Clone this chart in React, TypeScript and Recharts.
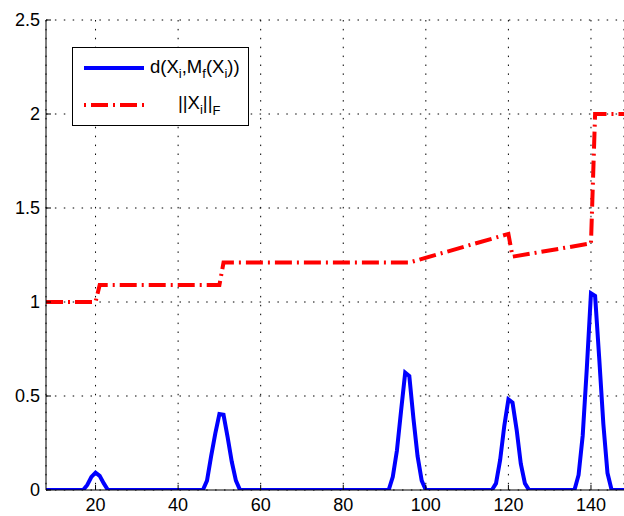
import React from 'react';
import { LineChart, Line, XAxis, YAxis, CartesianGrid, Legend } from 'recharts';

// distance to the fitted model, d(X_i, M_f(X_i))
const distX = [8, 17, 18, 19, 20, 21, 22, 23, 46, 47, 48, 49, 50, 51, 52, 53, 54, 55, 91, 92, 93, 94, 95, 96, 97, 98, 99, 100, 116, 117, 118, 119, 120, 121, 122, 123, 124, 125, 136, 137, 138, 139, 140, 141, 142, 143, 144, 145, 148];
const distY = [0, 0, 0.027, 0.07, 0.092, 0.075, 0.035, 0, 0, 0.05, 0.18, 0.3, 0.404, 0.4, 0.28, 0.15, 0.05, 0, 0, 0.07, 0.21, 0.42, 0.624, 0.606, 0.38, 0.18, 0.05, 0, 0, 0.035, 0.16, 0.34, 0.482, 0.465, 0.32, 0.14, 0.035, 0, 0, 0.08, 0.29, 0.65, 1.046, 1.032, 0.7, 0.35, 0.09, 0, 0];

// Frobenius norm ||X_i||_F (breakpoints of the piecewise curve)
const normX = [8, 20, 21, 50, 51, 96, 120, 121, 140, 141, 148];
const normY = [1, 1, 1.09, 1.09, 1.21, 1.21, 1.362, 1.241, 1.312, 2, 2];

const xTicks = [20, 40, 60, 80, 100, 120, 140];
const yTicks = [0, 0.5, 1, 1.5, 2, 2.5];
const yTickLabels = ['0', '0.5', '1', '1.5', '2', '2.5'];

const distData = distX.map((x, i) => ({ x, d: distY[i] }));
const normData = normX.map((x, i) => ({ x, n: normY[i] }));

const FONT = '"Liberation Sans", Arial, Helvetica, sans-serif';
const TICK_LEN = 5;

const YTick = (props: any) => {
  const { x, y, payload } = props;
  const idx = yTicks.indexOf(payload.value);
  const axisX = x + 6;
  return (
    <g>
      <line x1={axisX} x2={axisX + TICK_LEN} y1={y} y2={y} stroke="#000" />
      <text x={x} y={y} dy={6.4} textAnchor="end" fontSize={18} fontFamily={FONT} fill="#000">
        {idx >= 0 ? yTickLabels[idx] : payload.value}
      </text>
    </g>
  );
};

const XTick = (props: any) => {
  const { x, y, payload } = props;
  const axisY = y - 9;
  return (
    <g>
      <line x1={x} x2={x} y1={axisY} y2={axisY - TICK_LEN} stroke="#000" />
      <text x={x} y={y} dy={12} textAnchor="middle" fontSize={18} fontFamily={FONT} fill="#000">
        {payload.value}
      </text>
    </g>
  );
};

const TopTick = (props: any) => {
  const { x, y } = props;
  return <line x1={x} x2={x} y1={y} y2={y + TICK_LEN} stroke="#000" />;
};

const LegendBox = () => (
  <svg width={177} height={79} style={{ display: 'block' }}>
    <rect x={0.5} y={0.5} width={176} height={78} fill="#fff" stroke="#000" />
    <line x1={12} x2={72} y1={21} y2={21} stroke="#0000ff" strokeWidth={4} />
    <text x={78} y={26} fontSize={18.5} fontFamily={FONT} fill="#000">
      d(X<tspan dy={5} fontSize={13}>i</tspan>
      <tspan dy={-5}>,M</tspan>
      <tspan dy={5} fontSize={13}>f</tspan>
      <tspan dy={-5}>(X</tspan>
      <tspan dy={5} fontSize={13}>i</tspan>
      <tspan dy={-5}>))</tspan>
    </text>
    <line x1={12} x2={72} y1={58} y2={58} stroke="#ff0000" strokeWidth={4} strokeDasharray="2 5 17 5" />
    <text x={106} y={62} fontSize={18.5} fontFamily={FONT} fill="#000">
      ||X<tspan dy={5} fontSize={13}>i</tspan>
      <tspan dy={-5}>||</tspan>
      <tspan dy={6} fontSize={13}>F</tspan>
    </text>
  </svg>
);

const App: React.FC = () => {
  return (
    <div style={{ position: 'absolute', left: 0, top: 0, width: 624, height: 516, background: '#fff' }}>
      <LineChart width={624} height={516} margin={{ top: 20, right: 0, bottom: 0, left: 0 }}>
        <CartesianGrid stroke="#000" strokeDasharray="1.5 7.4" />
        <XAxis
          dataKey="x"
          type="number"
          domain={[8, 148]}
          ticks={xTicks}
          allowDataOverflow
          height={26}
          tickSize={0}
          tickMargin={9}
          tick={<XTick />}
          axisLine={{ stroke: '#000' }}
        />
        <XAxis
          xAxisId="top"
          orientation="top"
          type="number"
          domain={[8, 148]}
          ticks={xTicks}
          allowDataOverflow
          height={0}
          tickSize={0}
          tickMargin={0}
          tick={<TopTick />}
          axisLine={{ stroke: '#000' }}
        />
        <YAxis
          type="number"
          domain={[0, 2.5]}
          ticks={yTicks}
          allowDataOverflow
          width={46}
          tickSize={0}
          tickMargin={6}
          tick={<YTick />}
          axisLine={{ stroke: '#000' }}
        />
        <Line
          data={distData}
          dataKey="d"
          type="linear"
          stroke="#0000ff"
          strokeWidth={4}
          dot={false}
          activeDot={false}
          isAnimationActive={false}
        />
        <Line
          data={normData}
          dataKey="n"
          type="linear"
          stroke="#ff0000"
          strokeWidth={4}
          strokeDasharray="17 5 2 5"
          dot={false}
          activeDot={false}
          isAnimationActive={false}
        />
        <Legend
          layout="vertical"
          align="center"
          verticalAlign="middle"
          content={() => <LegendBox />}
          wrapperStyle={{ left: 72, top: 47, width: 177, height: 79 }}
        />
      </LineChart>
    </div>
  );
};

export default App;
